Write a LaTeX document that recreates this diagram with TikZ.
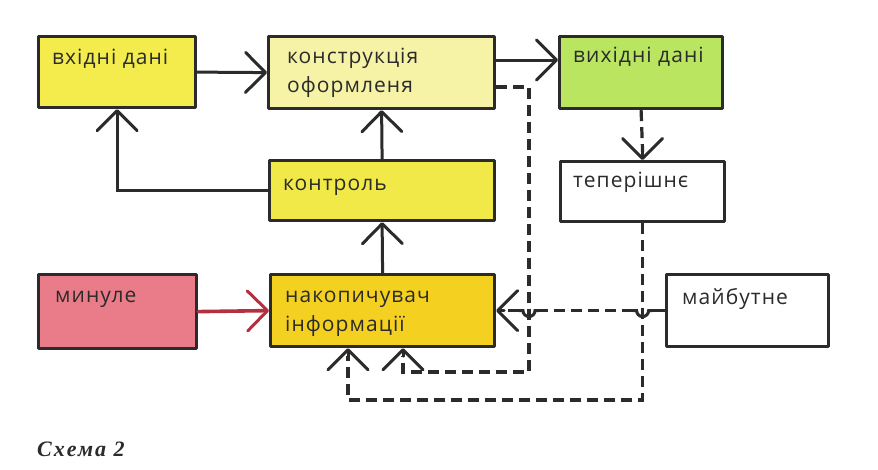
\documentclass[tikz,border=0pt]{standalone}
\usepackage{fontspec}
\usetikzlibrary{arrows.meta}
\newfontfamily\lblfont{Open Sans}[LetterSpace=5]
\newfontfamily\capfont{Liberation Serif}[LetterSpace=9]
\definecolor{ink}{HTML}{2B2B2B}
\definecolor{cvkh}{HTML}{F3EC4C}
\definecolor{ckon}{HTML}{F6F2A6}
\definecolor{cvyh}{HTML}{BAE560}
\definecolor{cktr}{HTML}{F1E947}
\definecolor{cmin}{HTML}{EA7C8A}
\definecolor{cnak}{HTML}{F4D020}
\definecolor{cred}{HTML}{B3303F}
\begin{document}
\begin{tikzpicture}[x=1pt,y=-1pt,
  box/.style={draw=ink,line width=3.2pt,anchor=north west,inner sep=0pt,line join=round},
  lbl/.style={anchor=base west,inner sep=0pt,text=ink,font=\lblfont\fontsize{21}{29}\selectfont,align=left},
  arr/.style={-{Straight Barb[length=20pt,width=40pt,line width=3pt,round]}},
  conn/.style={draw=ink,line width=3pt,arr,line cap=round},
  dconn/.style={draw=ink,line width=3.2pt,dash pattern=on 11pt off 6pt},
  jump/.style={draw=ink,line width=3pt,line cap=round},
]
\useasboundingbox (0,0) rectangle (878,469);
\fill[white] (0,0) rectangle (878,469);

% boxes
\node[box,fill=cvkh,minimum width=157pt,minimum height=71pt] (vkh) at (37,35) {};
\node[box,fill=ckon,minimum width=226pt,minimum height=72pt] (kon) at (267,35) {};
\node[box,fill=cvyh,minimum width=163pt,minimum height=72pt] (vyh) at (558,35) {};
\node[box,fill=cktr,minimum width=225pt,minimum height=60pt] (ktr) at (268,159) {};
\node[box,fill=white,minimum width=164pt,minimum height=60pt] (tep) at (559,160) {};
\node[box,fill=cmin,minimum width=158pt,minimum height=74pt] (min) at (37,273) {};
\node[box,fill=cnak,minimum width=224pt,minimum height=72pt] (nak) at (269,273) {};
\node[box,fill=white,minimum width=162pt,minimum height=72pt] (may) at (665,273) {};

% labels
\node[lbl] (tvkh) at (52,64) {вхідні дані};
\node[lbl] (tkon) at (287,92) {конструкція\\оформленя};
\node[lbl] (tvyh) at (573,62) {вихідні дані};
\node[lbl] (tktr) at (283,190) {контроль};
\node[lbl] (ttep) at (573,187) {теперішнє};
\node[lbl] (tmin) at (55,302) {минуле};
\node[lbl] (tnak) at (285,331) {накопичувач\\інформації};
\node[lbl] (tmay) at (682,304) {майбутне};
\node[anchor=base west,inner sep=0pt,text=ink,font=\capfont\bfseries\itshape\fontsize{22}{26}\selectfont] (cap) at (37,456) {Схема 2};

% helper coordinates
\coordinate (y60) at (0,60);
\coordinate (y87) at (0,87);
\coordinate (xa) at (529,0);
\coordinate (xb) at (403,0);
\coordinate (xc) at (348,0);
\coordinate (ya) at (0,372);
\coordinate (yb) at (0,400);

% solid connectors
\draw[conn] (vkh.east) -- (kon.west);
\draw[conn] (kon.east |- y60) -- (vyh.west |- y60);
\draw[conn] (ktr.north) -- (kon.south);
\draw[conn] (nak.north) -- (ktr.south);
\draw[conn] (ktr.west) -| (vkh.south);
\draw[conn,draw=cred,line width=3.6pt] (min.east) -- (nak.west);

% dashed connectors
\draw[dconn] (kon.east |- y87) -- (xa |- y87) -- (xa |- ya) -- (xb |- ya) -- ([yshift=-8pt]xb |- nak.south);
\draw[conn] ([yshift=-8pt]xb |- nak.south) -- (xb |- nak.south);
\draw[dconn] (vyh.south) -- ([yshift=8pt]tep.north);
\draw[conn] ([yshift=8pt]tep.north) -- (tep.north);
\draw[dconn] (tep.south) -- (tep.south |- yb) -- (xc |- yb) -- ([yshift=-8pt]xc |- nak.south);
\draw[conn] ([yshift=-8pt]xc |- nak.south) -- (xc |- nak.south);
% майбутне -> накопичувач, jumping under the two vertical dashed lines
\draw[jump] (may.west) -- ([xshift=-12pt]may.west);
\draw[dconn] ([xshift=-12pt]may.west) -- ([xshift=10pt]tep.south |- may.west);
\draw[jump] ([xshift=10pt]tep.south |- may.west) -- ([xshift=6pt]tep.south |- may.west)
   arc[start angle=0,end angle=-180,radius=6pt] -- ([xshift=-10pt]tep.south |- may.west);
\draw[dconn] ([xshift=-10pt]tep.south |- may.west) -- ([xshift=10pt]xa |- may.west);
\draw[jump] ([xshift=10pt]xa |- may.west) -- ([xshift=6pt]xa |- may.west)
   arc[start angle=0,end angle=-180,radius=6pt] -- ([xshift=-10pt]xa |- may.west);
\draw[dconn] ([xshift=-10pt]xa |- may.west) -- ([xshift=8pt]nak.east);
\draw[conn] ([xshift=8pt]nak.east) -- (nak.east);
\end{tikzpicture}
\end{document}
